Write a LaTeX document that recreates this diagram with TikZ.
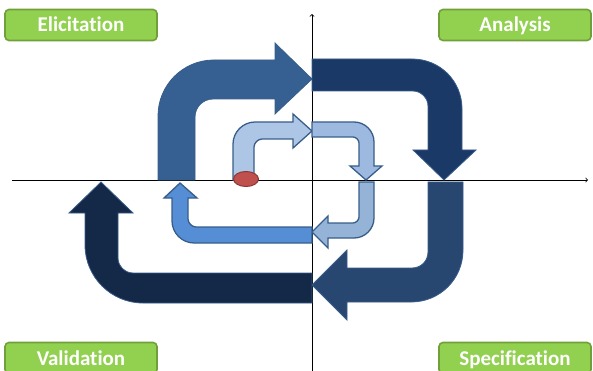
\documentclass[tikz,border=0pt]{standalone}
\usepackage{fontspec}
\newfontfamily\phasefont{Carlito}[Ligatures=NoCommon]
\usetikzlibrary{arrows,shapes}
\definecolor{phasegreen}{HTML}{92D050}
\definecolor{phaseedge}{HTML}{71A03A}
\definecolor{loopA}{HTML}{366092}
\definecolor{loopB}{HTML}{1B3966}
\definecolor{loopC}{HTML}{284770}
\definecolor{loopD}{HTML}{142847}
\definecolor{innerA}{HTML}{AEC6E6}
\definecolor{innerB}{HTML}{9DB9E0}
\definecolor{innerC}{HTML}{95B3D7}
\definecolor{innerD}{HTML}{558ED5}
\definecolor{rim}{HTML}{385D8A}
\definecolor{startred}{HTML}{C0504D}
\definecolor{startrim}{HTML}{8C3836}
\tikzstyle{axis} = [draw,line width=0.8pt,->]

\begin{document}
\begin{tikzpicture}
[x=1pt,y=-1pt,
phase/.style={shape=rectangle,rounded corners=4pt,draw=phaseedge,line width=1.6pt,fill=phasegreen,text=white,minimum width=152pt,minimum height=31pt,inner sep=0pt,text height=16pt,text depth=2pt,font=\phasefont\bfseries\fontsize{21}{24}\selectfont},
bigArrow/.style={draw=rim,line width=0.8pt},
smallArrow/.style={draw=rim,line width=1.3pt},
start/.style={shape=ellipse,draw=startrim,line width=1pt,fill=startred,minimum width=25pt,minimum height=15pt,inner sep=0pt}]

\useasboundingbox (0,0) rectangle (593,371);

%% axes
\coordinate (xl) at (12,180);
\coordinate (xr) at (588,180);
\coordinate (yb) at (312,375);
\coordinate (yt) at (312,14);
\path[axis] (xl) -- (xr);
\path[axis] (yb) -- (yt);

%% outer loop
\filldraw[bigArrow,fill=loopA] (158,180) -- (158,116) .. controls (158,85) and (183,60) .. (214,60) -- (275,60) -- (275,43) -- (312,79) -- (275,114) -- (275,99) -- (213,99) .. controls (203,99) and (195,107) .. (195,117) -- (195,180) -- cycle;
\filldraw[bigArrow,fill=loopB] (312,59) -- (412,59) .. controls (440,59) and (462,81) .. (462,109) -- (462,150) -- (476,150) -- (444,180) -- (413,150) -- (428,150) -- (428,106) .. controls (428,98) and (421,91) .. (413,91) -- (312,91) -- cycle;
\filldraw[bigArrow,fill=loopC] (428,182) -- (463,182) -- (463,250) .. controls (463,279) and (440,302) .. (411,302) -- (347,302) -- (347,320) -- (312,285) -- (347,250) -- (347,268) -- (412,268) .. controls (421,268) and (428,261) .. (428,252) -- cycle;
\filldraw[bigArrow,fill=loopD] (312,273) -- (312,303) -- (143,303) .. controls (111,303) and (85,277) .. (85,245) -- (85,213) -- (69,213) -- (101,182) -- (133,213) -- (118,213) -- (118,258) .. controls (118,266) and (125,273) .. (133,273) -- cycle;

%% inner loop
\filldraw[smallArrow,fill=innerA] (233,180) -- (233,144) .. controls (233,132) and (243,122) .. (255,122) -- (293,122) -- (293,114) -- (312,131) -- (293,148) -- (293,139) -- (262,139) .. controls (258,139) and (254,143) .. (254,147) -- (254,180) -- cycle;
\filldraw[smallArrow,fill=innerB] (312,122) -- (354,122) .. controls (365,122) and (374,131) .. (374,142) -- (374,166) -- (382,166) -- (366,180) -- (350,166) -- (359,166) -- (359,143) .. controls (359,140) and (356,137) .. (353,137) -- (312,137) -- cycle;
\filldraw[smallArrow,fill=innerC] (359,182) -- (374,182) -- (374,218) .. controls (374,229) and (365,238) .. (354,238) -- (328,238) -- (328,248) -- (312,232) -- (328,216) -- (328,223) -- (353,223) .. controls (356,223) and (359,220) .. (359,217) -- cycle;
\filldraw[smallArrow,fill=innerD] (312,227) -- (312,243) -- (194,243) .. controls (182,243) and (172,233) .. (172,221) -- (172,198) -- (164,198) -- (180,183) -- (197,198) -- (188,198) -- (188,219) .. controls (188,223) and (192,227) .. (196,227) -- cycle;

\node (origin) at (246,179) [start] {};

%% phase labels
\foreach \nodename/\x/\y/\caption in {elicit/81/25/Elicitation, analysis/515/25/Analysis, valid/81/358/Validation, spec/515/358/Specification}
{
\node (\nodename) at (\x,\y) [phase] {\caption};
}

\end{tikzpicture}
\end{document}
